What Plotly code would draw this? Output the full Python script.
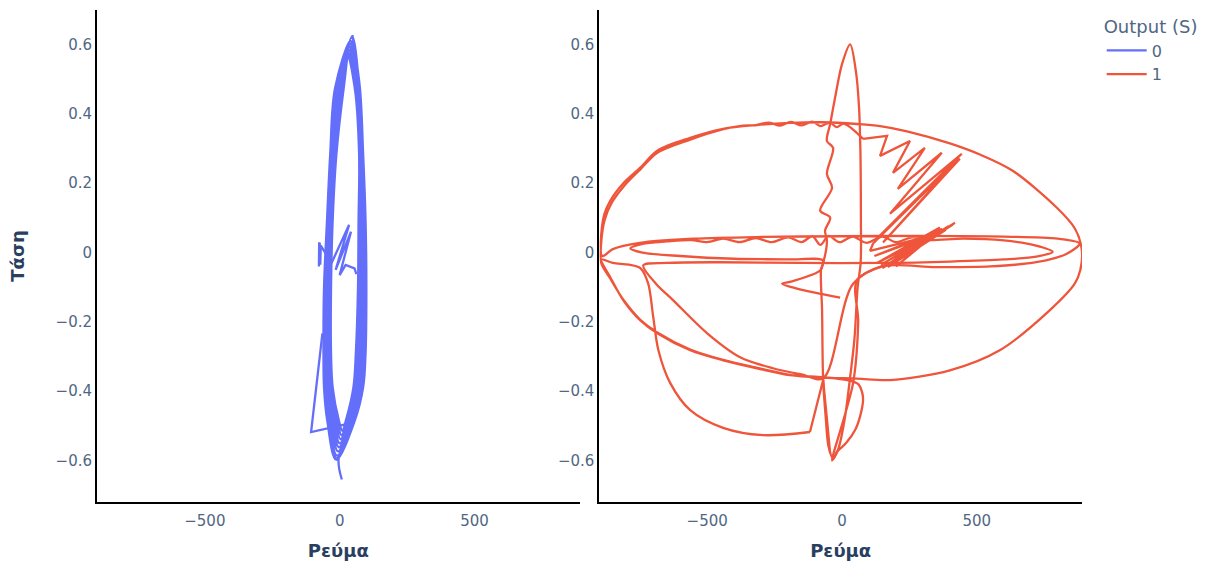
import plotly.graph_objects as go
from plotly.subplots import make_subplots

# ---------------- Output (S) = 0 ----------------
# closed orbits (Ρεύμα, Τάση); each orbit: top, right flank (7 pts), bottom, left flank (7 pts)
current_0 = [
    47, 75, 87, 96, 99, 96, 87, 56, -13, -46, -58, -60, -58, -47, -35, -17,
    38, 65, 79, 84, 84, 79, 71, 42, -3, -27, -43, -47, -46, -37, -22, 1,
    30, 57, 74, 73, 72, 65, 56, 28, 7, -9, -30, -36, -35, -29, -16, 10,
    44, 72, 84, 92, 94, 90, 82, 51, -10, -40, -53, -55, -54, -43, -30, -11,
    36, 62, 78, 80, 81, 75, 66, 37, 0, -21, -39, -43, -42, -34, -21, 0,
    27, 56, 72, 70, 68, 60, 51, 23, 10, -3, -26, -32, -32, -26, -12, 15,
    41, 68, 82, 88, 89, 85, 76, 47, -6, -33, -48, -52, -50, -41, -27, -5,
    33, 60, 75, 76, 76, 69, 61, 33, 3, -14, -34, -38, -38, -30, -17, 5,
    46, 73, 85, 93, 96, 92, 84, 53, -12, -43, -55, -57, -55, -45, -32, -14,
    40, 66, 80, 85, 86, 80, 70, 44, -4, 8,
]
voltage_0 = [
    0.628, 0.475, 0.285, 0.092, -0.100, -0.290, -0.389, -0.485, -0.598, -0.485, -0.389, -0.290, -0.100, 0.092, 0.285, 0.475,
    0.603, 0.475, 0.285, 0.092, -0.100, -0.290, -0.389, -0.485, -0.562, -0.485, -0.389, -0.290, -0.100, 0.092, 0.285, 0.475,
    0.578, 0.475, 0.285, 0.092, -0.100, -0.290, -0.389, -0.485, -0.527, -0.485, -0.389, -0.290, -0.100, 0.092, 0.285, 0.475,
    0.620, 0.475, 0.285, 0.092, -0.100, -0.290, -0.389, -0.485, -0.586, -0.485, -0.389, -0.290, -0.100, 0.092, 0.285, 0.475,
    0.595, 0.475, 0.285, 0.092, -0.100, -0.290, -0.389, -0.485, -0.551, -0.485, -0.389, -0.290, -0.100, 0.092, 0.285, 0.475,
    0.570, 0.475, 0.285, 0.092, -0.100, -0.290, -0.389, -0.485, -0.515, -0.485, -0.389, -0.290, -0.100, 0.092, 0.285, 0.475,
    0.611, 0.475, 0.285, 0.092, -0.100, -0.290, -0.389, -0.485, -0.574, -0.485, -0.389, -0.290, -0.100, 0.092, 0.285, 0.475,
    0.587, 0.475, 0.285, 0.092, -0.100, -0.290, -0.389, -0.485, -0.539, -0.485, -0.389, -0.290, -0.100, 0.092, 0.285, 0.475,
    0.624, 0.475, 0.285, 0.092, -0.100, -0.290, -0.389, -0.485, -0.594, -0.485, -0.389, -0.290, -0.100, 0.092, 0.285, 0.475,
    0.610, 0.475, 0.285, 0.092, -0.100, -0.290, -0.389, -0.485, -0.596, -0.655,
]
# start-up transient and a short excursion below the orbits
current_0_transient = [-76, -77, -74, -72, -70, -30, 35, -15, 42, 0, 22, 55, 62, None, -64, -106, 17]
voltage_0_transient = [0.030, -0.040, 0.028, -0.035, 0.020, -0.030, 0.080, -0.050, 0.060, -0.065, -0.036, -0.046, -0.062,
                       None, -0.233, -0.518, -0.497]

# ---------------- Output (S) = 1 ----------------
# smooth parts of the trajectory (gaps mark jumps to the sharp parts below)
current_1 = [
    # wiggle, wavy left flank, tall loop
    -7, -167, -222, -190, -81, -70, -56, -63, -44, -81, -37, -56, -33, -56, -44, -26, 0, 30,
    52, 63, 68, 70, 69, 58, 46, 30, 10, -15, -37,
    41, 60, 56, 178, None,
    # noisy crest, inner large orbit, hook
    78, 55, 30, 5, -20, -45, -80, -110, -150, -190, -230, -270, -320, -380, -440,
    -563, -685, -748, -805, -853, -880, -893, -893, -862, -811, -748, -685, -563, -441, -315, -193, -70, 19,
    60, 75, 78, 68, 50, 15, -19, -33,
    -50, -60, -70, -74, -78, -70,
    # flat orbits
    -200, -400, -600, -740, -785,
    -740, -650, -560, -500, -440, -380, -320, -260, -200, -150, -110, -80, -50, -10, 40, 90, 150, 200, 260, 320, 450, 600, 720, 781,
    720, 600, 400, 150, -150, -450, -650, -737,
    -690, -626, -500, -378, -256, -150, -70, 41,
    150, 350, 550, 720, 830, 881,
    800, 600, 300, 0, -300, -550, -750, -850, -889,
    # outer large orbit
    -885, -859, -811, -748, -685, -563, -441, -315, -193, -70, 56, 141, 241, 400, 511, 633, 796, 863, 889,
    884, 863, 770, 585, 400, 178, 56, -70, -193, -315, -441, -563, -685, -748, -811, -859, -893,
    -850, -790, -748,
    -719, -700, -681, -637, -563, -441, -293, -119,
]
voltage_1 = [
    -0.130, -0.104, -0.090, -0.084, -0.052, -0.030, 0.035, 0.063, 0.101, 0.121, 0.187, 0.227, 0.302, 0.322, 0.371, 0.446, 0.544, 0.601,
    0.520, 0.420, 0.300, 0.100, -0.030, -0.100, -0.250, -0.360, -0.480, -0.570, -0.600,
    -0.377, -0.200, -0.080, -0.032, None,
    0.328, 0.345, 0.362, 0.372, 0.362, 0.375, 0.365, 0.378, 0.367, 0.377, 0.366, 0.375, 0.368, 0.365, 0.356,
    0.326, 0.288, 0.240, 0.195, 0.145, 0.095, 0.030, -0.030, -0.072, -0.136, -0.194, -0.231, -0.280, -0.310, -0.333, -0.353, -0.360, -0.368,
    -0.380, -0.405, -0.426, -0.470, -0.510, -0.550, -0.575, -0.595,
    -0.560, -0.480, -0.368, -0.167, -0.050, -0.023,
    -0.020, -0.018, -0.010, 0.000, 0.012,
    0.025, 0.032, 0.036, 0.030, 0.040, 0.030, 0.042, 0.030, 0.044, 0.030, 0.047, 0.022, 0.048, 0.030, 0.046, 0.028, 0.046, 0.030, 0.044, 0.036, 0.040, 0.035, 0.020, 0.002,
    -0.012, -0.020, -0.026, -0.030, -0.030, -0.028, -0.030, -0.037,
    -0.090, -0.138, -0.233, -0.302, -0.334, -0.352, -0.363, -0.090,
    -0.040, -0.042, -0.040, -0.028, -0.005, 0.026,
    0.040, 0.046, 0.048, 0.047, 0.045, 0.040, 0.028, 0.010, -0.010,
    0.100, 0.150, 0.200, 0.245, 0.294, 0.331, 0.357, 0.368, 0.374, 0.376, 0.371, 0.365, 0.350, 0.315, 0.283, 0.236, 0.130, 0.070, 0.010,
    -0.050, -0.090, -0.167, -0.282, -0.340, -0.368, -0.364, -0.361, -0.354, -0.334, -0.311, -0.282, -0.233, -0.196, -0.138, -0.072, -0.020,
    -0.030, -0.035, -0.045,
    -0.089, -0.187, -0.282, -0.377, -0.455, -0.506, -0.527, -0.518,
]
# sharp parts: oscillating fans and the final drop
current_1_sharp = [
    178, 419, 150, 410, 130, 363, 160, 395, 170, 385, 120, 372, 145, 350, 200, 340, 104,
    115, 426, 152, 437, 133, 444, 178, 370, 207, 307, 189, 252, 141, 167, 78, None,
    -119, -70, -56, -44,
]
voltage_1_sharp = [
    -0.032, 0.086, -0.045, 0.080, -0.030, 0.072, -0.040, 0.076, -0.042, 0.066, -0.010, 0.068, -0.035, 0.058, -0.040, 0.050, 0.005,
    0.026, 0.265, 0.029, 0.271, 0.043, 0.285, 0.112, 0.288, 0.184, 0.302, 0.230, 0.322, 0.279, 0.337, 0.328, None,
    -0.518, -0.368, -0.480, -0.580,
]

output_labels = ["0", "1"]
colors = ["#636efa", "#EF553B"]
x_range = [-900, 890]
y_range = [-0.72, 0.70]
x_ticks = [-500, 0, 500]
y_ticks = [-0.6, -0.4, -0.2, 0, 0.2, 0.4, 0.6]

FONT = "DejaVu Sans, Verdana, sans-serif"
TITLE_COLOR = "#2a3f5f"
TICK_COLOR = "#506784"
LW = 2.3

fig = make_subplots(rows=1, cols=2, horizontal_spacing=0.02)

fig.add_trace(go.Scatter(x=current_0, y=voltage_0, mode="lines", name=output_labels[0],
                         legendgroup=output_labels[0],
                         line=dict(color=colors[0], width=LW, shape="spline", smoothing=1.0, simplify=False)),
              row=1, col=1)
fig.add_trace(go.Scatter(x=current_0_transient, y=voltage_0_transient, mode="lines", name=output_labels[0],
                         legendgroup=output_labels[0], showlegend=False,
                         line=dict(color=colors[0], width=LW, simplify=False)),
              row=1, col=1)
fig.add_trace(go.Scatter(x=current_1, y=voltage_1, mode="lines", name=output_labels[1],
                         legendgroup=output_labels[1],
                         line=dict(color=colors[1], width=LW, shape="spline", smoothing=0.9, simplify=False)),
              row=1, col=2)
fig.add_trace(go.Scatter(x=current_1_sharp, y=voltage_1_sharp, mode="lines", name=output_labels[1],
                         legendgroup=output_labels[1], showlegend=False,
                         line=dict(color=colors[1], width=LW, simplify=False)),
              row=1, col=2)

axis_common = dict(showgrid=False, zeroline=False, showline=True, linecolor="black",
                   linewidth=2, ticks="", automargin=False,
                   tickfont=dict(family=FONT, size=15, color=TICK_COLOR))
for c in (1, 2):
    fig.update_xaxes(range=x_range, tickvals=x_ticks, ticklabelstandoff=4,
                     title=dict(text="<b>Ρεύμα</b>", font=dict(family=FONT, size=18, color=TITLE_COLOR)),
                     row=1, col=c, **axis_common)
    fig.update_yaxes(range=y_range, tickvals=y_ticks, row=1, col=c, **axis_common)
fig.update_yaxes(title=dict(text="<b>Τάση</b>", standoff=26, font=dict(family=FONT, size=18, color=TITLE_COLOR)),
                 row=1, col=1)

fig.update_layout(
    width=1212, height=562,
    template="plotly_white",
    font=dict(family=FONT, size=15, color=TICK_COLOR),
    margin=dict(l=97, r=130, t=10, b=60, autoexpand=False),
    plot_bgcolor="white", paper_bgcolor="white",
    legend=dict(title=dict(text="Output (S)", font=dict(size=18, color=TICK_COLOR)),
                font=dict(size=16, color=TICK_COLOR), tracegroupgap=0, itemwidth=40),
)

fig.write_html("out.html")
